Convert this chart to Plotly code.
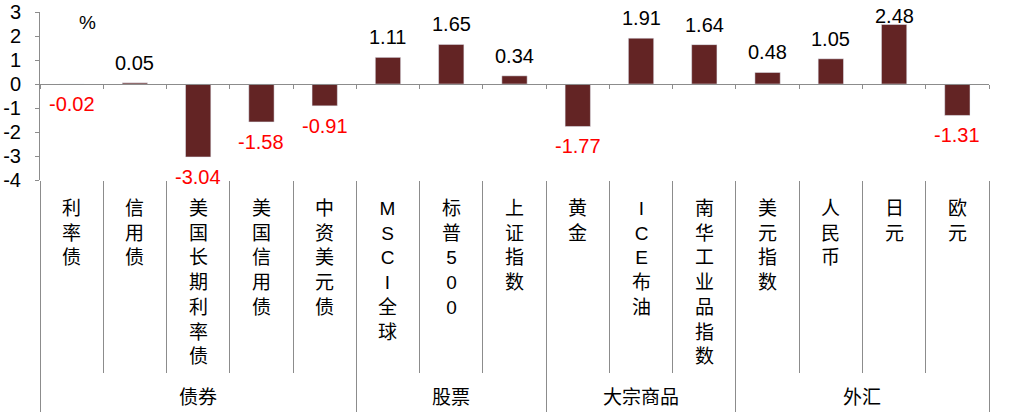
import plotly.graph_objects as go

categories = ["利率债", "信用债", "美国长期利率债", "美国信用债", "中资美元债",
              "MSCI全球", "标普500", "上证指数",
              "黄金", "ICE布油", "南华工业品指数",
              "美元指数", "人民币", "日元", "欧元"]
values = [-0.02, 0.05, -3.04, -1.58, -0.91,
          1.11, 1.65, 0.34,
          -1.77, 1.91, 1.64,
          0.48, 1.05, 2.48, -1.31]
groups = ["债券", "股票", "大宗商品", "外汇"]
group_sizes = [5, 3, 3, 4]
y_ticks = [3, 2, 1, 0, -1, -2, -3, -4]
y_ticktext = ["3", "2", "1", "0", "-1", "-2", "-3", "-4"]

FONT = "Liberation Sans, Arial, Noto Sans CJK SC"
BAR = "#632424"
GRID = "#8c8c8c"
PX_PER_UNIT = 168 / 7  # plot height / y range

x = list(range(len(categories)))
bounds = [i - 0.5 for i in range(len(categories) + 1)]
group_bounds = [-0.5]
for n in group_sizes:
    group_bounds.append(group_bounds[-1] + n)

fig = go.Figure()
fig.add_trace(go.Bar(x=x, y=values, marker_color=BAR, width=0.4,
                     hoverinfo="skip", showlegend=False))
# invisible trace so the bottom separator axis gets drawn
fig.add_trace(go.Scatter(x=x, y=values, xaxis="x2", mode="none",
                         hoverinfo="skip", showlegend=False))

annotations = []
# value labels (kept inside the plot at the top, like Excel)
for i, v in enumerate(values):
    if v >= 0:
        shift = min(20, (y_ticks[0] - v) * PX_PER_UNIT - 3.5)
    else:
        shift = -20
    annotations.append(dict(
        x=i, y=v, xref="x", yref="y", text=f"{v:.2f}", showarrow=False,
        yshift=shift, yanchor="middle",
        font=dict(size=20, color="black" if v >= 0 else "#ff0000")))

# vertical category labels
for i, c in enumerate(categories):
    annotations.append(dict(
        x=i, y=-0.095, xref="x", yref="paper", text="<br>".join(c),
        showarrow=False, yanchor="top", align="center",
        font=dict(size=19, color="black")))

# group labels
start = 0
for g, n in zip(groups, group_sizes):
    annotations.append(dict(
        x=start + (n - 1) / 2, y=-1.292, xref="x", yref="paper", text=g,
        showarrow=False, yanchor="middle", font=dict(size=19, color="black")))
    start += n

annotations.append(dict(x=0.05, y=0.94, xref="paper", yref="paper", text="%",
                        xanchor="center", yanchor="middle", showarrow=False,
                        font=dict(size=19, color="black")))

fig.update_layout(
    width=1015, height=412,
    margin=dict(l=40, r=26, t=12, b=232, autoexpand=False),
    plot_bgcolor="white", paper_bgcolor="white",
    font=dict(family=FONT, size=19, color="black"),
    annotations=annotations,
    xaxis=dict(range=[-0.5, len(categories) - 0.5], anchor="free",
               position=4 / 7, showline=True, linecolor=GRID, linewidth=1,
               ticks="outside", tickvals=bounds, ticklen=4, tickcolor=GRID,
               showticklabels=False, showgrid=False, zeroline=False,
               automargin=False),
    xaxis2=dict(overlaying="x", matches="x", anchor="y", side="bottom",
                showline=False, showgrid=False, zeroline=False,
                showticklabels=False, ticks="outside",
                tickvals=group_bounds, ticklen=232, tickcolor=GRID,
                automargin=False,
                minor=dict(tickvals=bounds, ticks="outside", ticklen=192,
                           tickcolor=GRID)),
    yaxis=dict(range=[-4, 3], tickvals=y_ticks, ticktext=y_ticktext,
               showline=True, linecolor=GRID, ticks="outside", ticklen=4,
               tickcolor=GRID, showgrid=False, zeroline=False,
               ticklabelstandoff=10,
               tickfont=dict(size=20), automargin=False),
)

# drop the page's default 8px body margin so the figure sits at the corner
fig.write_html("out.html", config={"displayModeBar": False},
               post_script="document.body.style.margin='0';")
